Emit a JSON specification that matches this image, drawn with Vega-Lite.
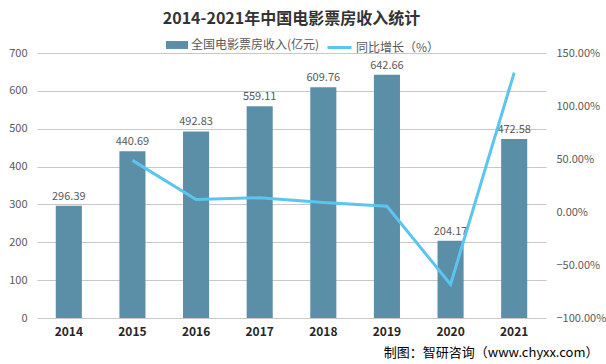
{
  "$schema": "https://vega.github.io/schema/vega-lite/v6.json",
  "width": 509,
  "height": 265,
  "autosize": {"type": "none"},
  "padding": {"left": 37, "top": 53, "right": 60, "bottom": 46},
  "background": "white",
  "config": {
    "font": "Noto Sans CJK SC",
    "view": {"stroke": null}
  },
  "title": {
    "text": "2014-2021年中国电影票房收入统计",
    "fontSize": 16,
    "fontWeight": "bold",
    "color": "#333333",
    "anchor": "middle",
    "offset": 7
  },
  "data": {
    "values": [
      {"year": "2014", "revenue": 296.39, "growth": null},
      {"year": "2015", "revenue": 440.69, "growth": 48.69},
      {"year": "2016", "revenue": 492.83, "growth": 11.83},
      {"year": "2017", "revenue": 559.11, "growth": 13.45},
      {"year": "2018", "revenue": 609.76, "growth": 9.06},
      {"year": "2019", "revenue": 642.66, "growth": 5.40},
      {"year": "2020", "revenue": 204.17, "growth": -68.23},
      {"year": "2021", "revenue": 472.58, "growth": 131.46}
    ]
  },
  "encoding": {
    "x": {
      "field": "year",
      "type": "nominal",
      "scale": {"paddingInner": 0.59, "paddingOuter": 0.295},
      "axis": {
        "labelAngle": 0,
        "labelFontWeight": "bold",
        "labelFontSize": 12,
        "labelColor": "#262626",
        "labelPadding": 8,
        "domain": false,
        "ticks": false,
        "grid": false,
        "title": "制图：智研咨询（www.chyxx.com）",
        "titleFontSize": 13,
        "titleFontWeight": "normal",
        "titleColor": "#000000",
        "titleAnchor": "end",
        "titleAlign": "right",
        "titleBaseline": "middle",
        "titleX": 561,
        "titleY": 34
      }
    }
  },
  "layer": [
    {
      "encoding": {
        "y": {
          "field": "revenue",
          "type": "quantitative",
          "scale": {"domain": [0, 700], "nice": false, "zero": true},
          "axis": {
            "title": null,
            "values": [0, 100, 200, 300, 400, 500, 600, 700],
            "labelOverlap": false,
            "grid": true,
            "gridColor": "#C8C8C8",
            "gridOpacity": 1,
            "gridWidth": 1.2,
            "domain": false,
            "ticks": false,
            "labelColor": "#595959",
            "labelFontSize": 11,
            "labelPadding": 10
          }
        }
      },
      "layer": [
        {
          "mark": {"type": "bar"},
          "encoding": {
            "fill": {
              "datum": "全国电影票房收入(亿元)",
              "type": "nominal",
              "scale": {"range": ["#5B8FA7"]},
              "legend": {
                "title": null,
                "orient": "none",
                "legendX": 129,
                "legendY": -19,
                "padding": 0,
                "symbolType": "M-1,-0.36L1,-0.36L1,0.36L-1,0.36Z",
                "symbolSize": 484,
                "symbolStrokeWidth": 0,
                "labelFontSize": 12,
                "labelColor": "#595959",
                "labelOffset": 3
              }
            }
          }
        },
        {
          "mark": {"type": "text", "dy": -9, "fontSize": 11, "color": "#595959"},
          "encoding": {
            "text": {"field": "revenue", "type": "quantitative", "format": ".2f"}
          }
        }
      ]
    },
    {
      "mark": {"type": "line", "strokeWidth": 3},
      "encoding": {
        "y": {
          "field": "growth",
          "type": "quantitative",
          "scale": {"domain": [-100, 150], "nice": false},
          "axis": {
            "orient": "right",
            "title": null,
            "values": [-100, -50, 0, 50, 100, 150],
            "labelOverlap": false,
            "labelExpr": "format(datum.value, '.2f') + '%'",
            "grid": false,
            "domain": false,
            "ticks": false,
            "labelColor": "#595959",
            "labelFontSize": 11,
            "labelPadding": 10
          }
        },
        "stroke": {
          "datum": "同比增长（%）",
          "type": "nominal",
          "scale": {"range": ["#5BC5F2"]},
          "legend": {
            "title": null,
            "orient": "none",
            "legendX": 289,
            "legendY": -19,
            "padding": 0,
            "symbolType": "stroke",
            "symbolSize": 576,
            "symbolStrokeWidth": 3,
            "labelFontSize": 12,
            "labelColor": "#595959",
            "labelOffset": 3
          }
        }
      }
    }
  ],
  "resolve": {"scale": {"y": "independent", "fill": "independent", "stroke": "independent"}}
}
